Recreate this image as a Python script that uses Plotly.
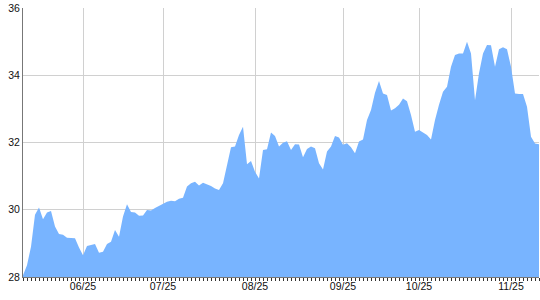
import plotly.graph_objects as go

# Trading-day index (one point per session)
values = [
    28.05, 28.35, 28.90, 29.85, 30.07, 29.72, 29.92, 29.96, 29.50, 29.28,
    29.26, 29.17, 29.16, 29.15, 28.88, 28.65, 28.92, 28.96, 28.98, 28.72,
    28.75, 28.98, 29.05, 29.40, 29.20, 29.80, 30.16, 29.93, 29.92, 29.82,
    29.83, 29.99, 29.98, 30.05, 30.12, 30.17, 30.24, 30.27, 30.25, 30.33,
    30.36, 30.69, 30.79, 30.83, 30.72, 30.80, 30.75, 30.71, 30.63, 30.59,
    30.79, 31.33, 31.86, 31.88, 32.22, 32.47, 31.35, 31.45, 31.13, 30.93,
    31.78, 31.80, 32.30, 32.19, 31.88, 31.99, 32.04, 31.78, 31.95, 31.94,
    31.56, 31.81, 31.88, 31.83, 31.38, 31.20, 31.73, 31.88, 32.19, 32.15,
    31.93, 31.98, 31.86, 31.68, 32.03, 32.09, 32.67, 32.97, 33.48, 33.83,
    33.46, 33.41, 32.95, 33.02, 33.12, 33.31, 33.23, 32.82, 32.32, 32.37,
    32.30, 32.22, 32.09, 32.67, 33.12, 33.51, 33.66, 34.25, 34.60, 34.65,
    34.65, 35.00, 34.65, 33.26, 34.06, 34.65, 34.90, 34.89, 34.25, 34.77,
    34.83, 34.77, 34.25, 33.46, 33.44, 33.44, 33.06, 32.17, 31.97, 31.95,
]
sessions = list(range(len(values)))

# Month boundaries (session index of each labelled month)
month_sessions = [15, 35, 58, 80, 99, 122]
month_labels = ["06/25", "07/25", "08/25", "09/25", "10/25", "11/25"]

y_ticks = [28, 30, 32, 34, 36]

fig = go.Figure()
fig.add_trace(go.Scatter(
    x=sessions, y=values, mode="lines", fill="tozeroy",
    line=dict(width=0, color="#78b4ff"), fillcolor="#78b4ff",
    hoverinfo="skip", showlegend=False,
))

font = dict(family="Liberation Sans, Arial, sans-serif", size=10.5, color="#111")

fig.update_layout(
    width=540, height=300,
    margin=dict(l=23, r=1, t=8, b=23),
    paper_bgcolor="white", plot_bgcolor="white",
    font=font,
    xaxis=dict(
        range=[0, len(values) - 1],
        tickmode="array", tickvals=month_sessions, ticktext=month_labels,
        showgrid=True, gridcolor="#d0d0d0", gridwidth=1,
        showline=True, linecolor="#777", linewidth=1,
        ticks="outside", ticklen=3, tickcolor="#333",
        ticklabelstandoff=-4,
        minor=dict(tickmode="linear", tick0=0, dtick=1, ticks="outside",
                   ticklen=3, tickcolor="#333", showgrid=False),
        zeroline=False, tickfont=font,
    ),
    yaxis=dict(
        range=[28, 36], tickmode="array", tickvals=y_ticks,
        showgrid=True, gridcolor="#d0d0d0", gridwidth=1,
        showline=True, linecolor="#777", linewidth=1,
        ticks="", zeroline=False, tickfont=font,
    ),
)

fig.write_html("out.html")
